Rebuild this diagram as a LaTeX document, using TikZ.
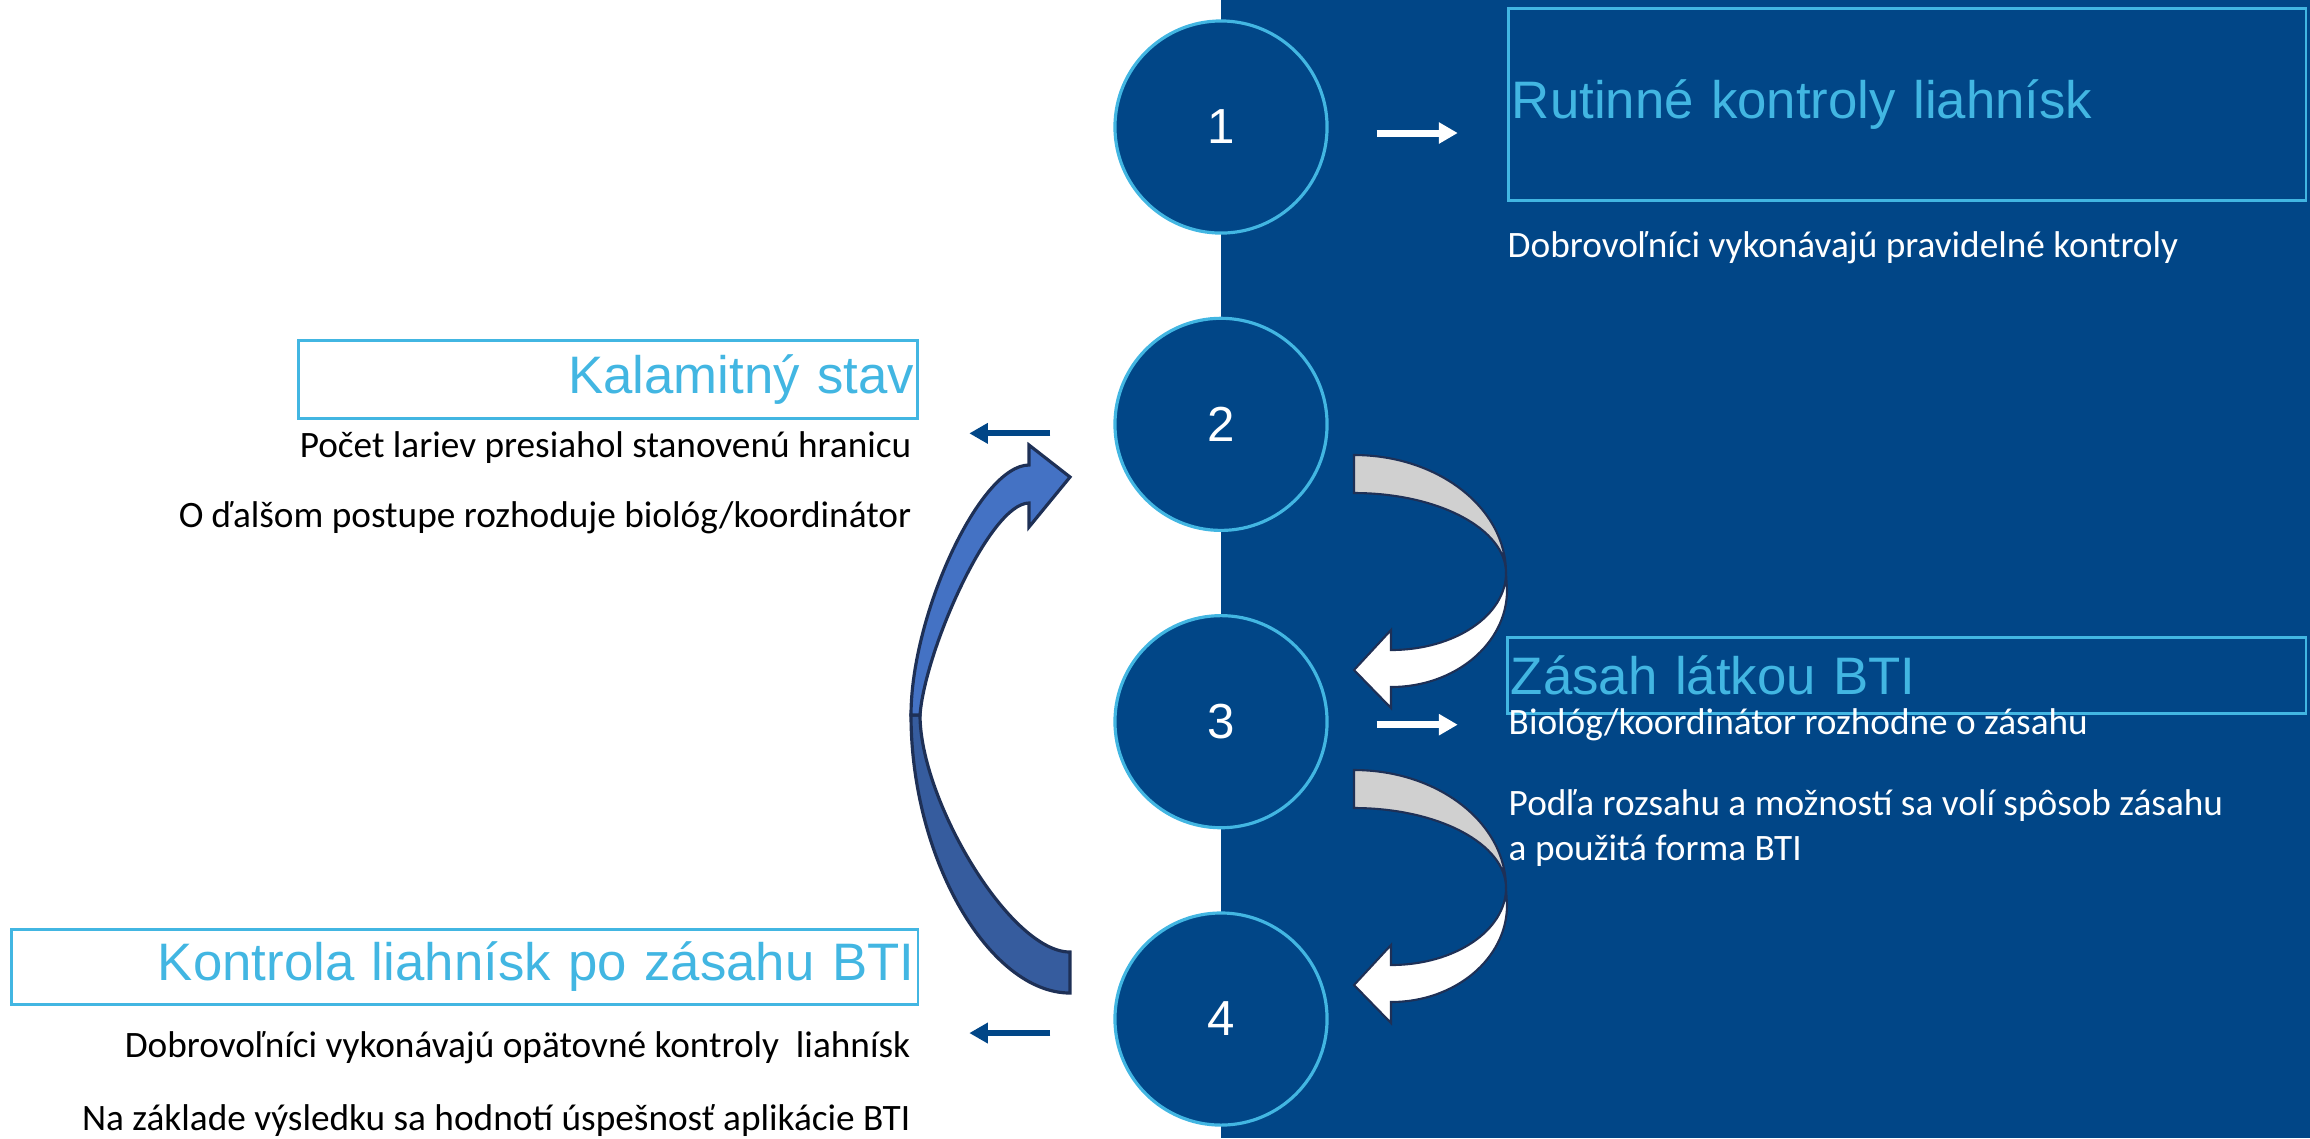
\documentclass[tikz,border=0pt]{standalone}
\usepackage{fontspec}
\setmainfont{Carlito}
\newfontfamily\headfont{Liberation Sans}
\usepackage{tikz}
\usetikzlibrary{
  arrows.meta,
  positioning
}
\usepackage{xcolor}
\definecolor{panelblue}{RGB}{1,70,135}
\definecolor{ringblue}{RGB}{66,182,226}
\definecolor{edgenavy}{RGB}{30,48,86}
\definecolor{backgray}{RGB}{208,208,208}
\definecolor{loopblue}{RGB}{68,114,196}
\definecolor{loopdark}{RGB}{54,92,158}

\tikzset{
  stepcircle/.style={circle, draw=ringblue, line width=0.9pt, fill=panelblue,
    minimum size=2.12cm, inner sep=0pt, text=white,
    font=\headfont\fontsize{14}{16}\selectfont},
  headbox/.style={draw=ringblue, line width=0.8pt, text=ringblue,
    font=\headfont\fontsize{15}{17}\selectfont, inner xsep=1pt, inner ysep=0pt},
  bodytext/.style={font=\fontsize{10.6}{13}\selectfont, inner sep=0pt},
  backarrow/.style={draw=panelblue, line width=1.7pt,
    -{Triangle[length=5.3pt, width=5.6pt]}},
  nextarrow/.style={draw=white, line width=2pt,
    -{Triangle[length=5.4pt, width=5.8pt]}},
  ribbon/.style={draw=edgenavy, line width=0.6pt},
  loopribbon/.style={draw=edgenavy, line width=0.9pt}
}

\begin{document}
\begin{tikzpicture}[x=0.01cm, y=-0.01cm]
  \useasboundingbox (0,0) rectangle (2310,1138);

  % dark panel on the right
  \fill[panelblue] (1221,0) rectangle (2310,1138);

  % numbered steps
  \node[stepcircle] (c1) at (1221,127) {1};
  \node[stepcircle, below=0.82cm of c1] (c2) {2};
  \node[stepcircle, below=0.82cm of c2] (c3) {3};
  \node[stepcircle, below=0.82cm of c3] (c4) {4};

  % step 1
  \node[headbox, anchor=north west, minimum width=7.97cm, minimum height=1.92cm,
    text width=7.9cm, align=left] (t1) at (1507,7) {Rutinné kontroly liahnísk};
  \node[bodytext, text=white, anchor=base west] (b1) at (1507,257)
    {Dobrovoľníci vykonávajú pravidelné kontroly};

  % step 2
  \node[headbox, anchor=north west, minimum width=6.19cm, minimum height=0.78cm,
    text width=6.12cm, align=right] (t2) at (297,339) {Kalamitný stav};
  \node[bodytext, anchor=base east] (b2) at (912,457)
    {Počet lariev presiahol stanovenú hranicu};
  \node[bodytext, anchor=base east] (b3) at (912,527)
    {O ďalšom postupe rozhoduje biológ/koordinátor};

  % step 3
  \node[headbox, anchor=north west, minimum width=7.98cm, minimum height=0.76cm,
    text width=7.91cm, align=left] (t3) at (1506,636) {Zásah látkou BTI};
  \node[bodytext, text=white, anchor=base west] (b4) at (1508,734)
    {Biológ/koordinátor rozhodne o zásahu};
  \node[bodytext, text=white, anchor=base west] (b5) at (1508,815)
    {Podľa rozsahu a možností sa volí spôsob zásahu};
  \node[bodytext, text=white, anchor=base west] (b6) at (1508,860)
    {a použitá forma BTI};

  % step 4
  \node[headbox, anchor=north west, minimum width=9.06cm, minimum height=0.75cm,
    text width=8.99cm, align=right] (t4) at (10,928) {Kontrola liahnísk po zásahu BTI};
  \node[bodytext, anchor=base east] (b7) at (911,1057)
    {Dobrovoľníci vykonávajú opätovné kontroly~ liahnísk};
  \node[bodytext, anchor=base east] (b8) at (911,1130)
    {Na základe výsledku sa hodnotí úspešnosť aplikácie BTI};

  % small arrows beside the circles
  \draw[nextarrow] ([xshift=0.48cm, yshift=-0.06cm]c1.east) -- ([xshift=1.29cm, yshift=-0.06cm]c1.east);
  \draw[nextarrow] ([xshift=0.48cm, yshift=-0.03cm]c3.east) -- ([xshift=1.29cm, yshift=-0.03cm]c3.east);
  \draw[backarrow] ([xshift=-0.63cm, yshift=-0.09cm]c2.west) -- ([xshift=-1.44cm, yshift=-0.09cm]c2.west);
  \draw[backarrow] ([xshift=-0.63cm, yshift=-0.14cm]c4.west) -- ([xshift=-1.44cm, yshift=-0.14cm]c4.west);

  % turning arrows 2 -> 3 and 3 -> 4
  \foreach \dy in {0,315}{
    \begin{scope}[shift={(0,\dy)}]
      \filldraw[ribbon, fill=backgray] (1354,455)
        arc[start angle=-90, end angle=0, x radius=152, y radius=118]
        arc[start angle=0, end angle=-90, x radius=152, y radius=80] -- cycle;
      \filldraw[ribbon, fill=white] (1506,573)
        arc[start angle=0, end angle=90, x radius=115, y radius=77]
        -- (1391,630) -- (1354,670) -- (1391,708) -- (1391,687)
        arc[start angle=90, end angle=0, x radius=116, y radius=97] -- cycle;
    \end{scope}
  }

  % loop arrow 4 -> 2
  \filldraw[loopribbon, fill=loopdark] (911,715)
    .. controls (911,860) and (990,993) .. (1070,993) -- (1070,952)
    .. controls (1010,952) and (920,800) .. (920,715) -- cycle;
  \filldraw[loopribbon, fill=loopblue] (1029,465) -- (1029,445) -- (1070,477)
    -- (1029,527) -- (1029,503)
    .. controls (990,503) and (925,650) .. (920,715) -- (911,715)
    .. controls (911,615) and (980,465) .. (1029,465) -- cycle;
\end{tikzpicture}
\end{document}
